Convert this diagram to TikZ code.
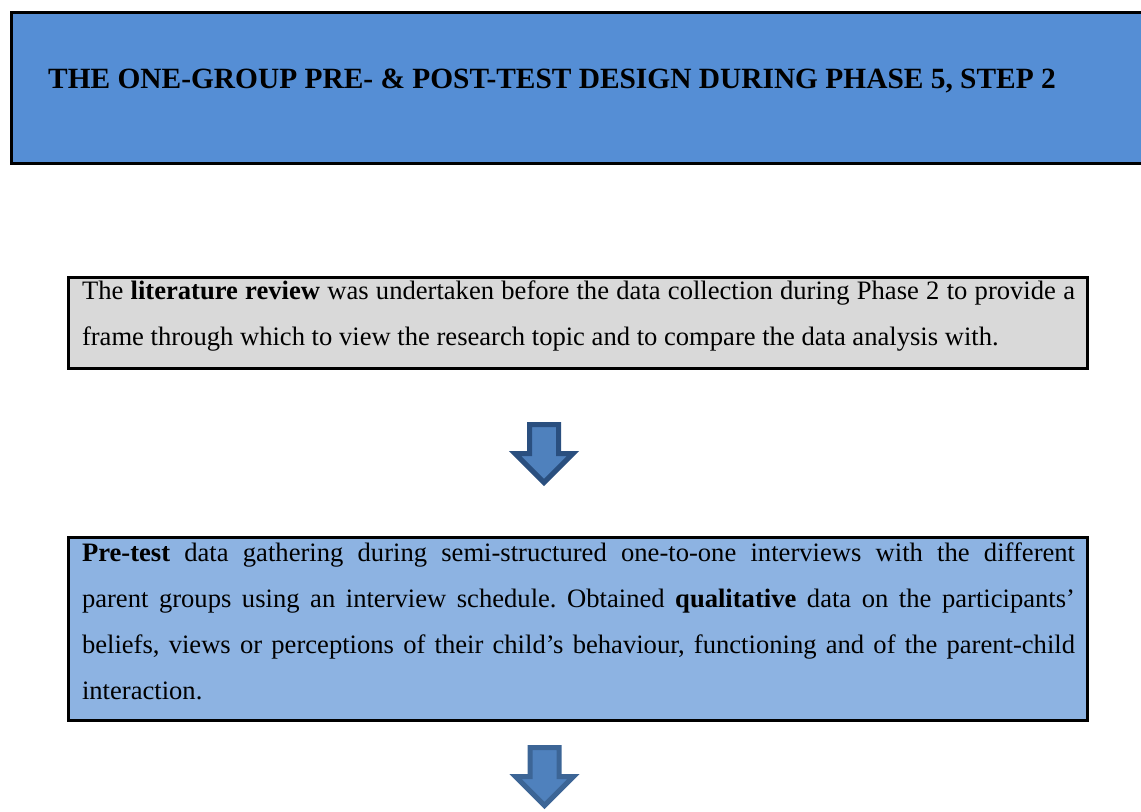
\documentclass[tikz,border=0pt]{standalone}
\usepackage{fontspec}
\setmainfont{Liberation Serif}
\definecolor{titleblue}{HTML}{558ED5}
\definecolor{stepblue}{HTML}{8DB3E2}
\definecolor{litgray}{HTML}{D9D9D9}
\definecolor{arrowfill}{HTML}{4F81BD}
\definecolor{arrowedgeA}{HTML}{2A4F7F}
\definecolor{arrowedgeB}{HTML}{3C6596}
\tikzset{
  framebox/.style={draw=black, line width=1.5pt, rectangle, inner sep=0pt,
    outer sep=0pt, anchor=north west},
  bodytext/.style={anchor=north west, inner sep=0pt, outer sep=0pt,
    text width=496.5pt, align=justify,
    font=\fontsize{13.3pt}{23pt}\selectfont\frenchspacing},
  titletext/.style={anchor=base, inner sep=0pt,
    font=\fontsize{14.7pt}{17pt}\selectfont\bfseries},
  pics/downarrow/.style={code={
    \path[pic actions, fill=arrowfill, line width=2.5pt, line join=miter]
      (-14.5,0) -- (14.5,0) -- (14.5,29) -- (29,29) -- (0,58)
      -- (-29,29) -- (-14.5,29) -- cycle;
  }}
}
\begin{document}
\begin{tikzpicture}[x=0.5pt, y=-0.5pt]
  \path[use as bounding box] (0,0) rectangle (1141,811);
  \clip (0,0) rectangle (1141,811);

  % heading banner
  \node[framebox, fill=titleblue, minimum width=574.25pt, minimum height=75.5pt]
    (titlebox) at (11.5,12) {};
  \node[titletext] (title) at (552,88)
    {THE ONE-GROUP PRE- \& POST-TEST DESIGN DURING PHASE 5, STEP 2};

  % literature review step
  \node[framebox, fill=litgray, minimum width=509.5pt, minimum height=45.5pt]
    (litbox) at (68.5,277) {};
  \node[bodytext] (littext) at (82,267.3)
    {\strut The \textbf{literature review} was undertaken before the data collection during Phase 2 to provide a\linebreak
     frame through which to view the research topic and to compare the data analysis with.};

  \pic[draw=arrowedgeA] (arrowA) at (544,424.5) {downarrow};

  % pre-test step
  \node[framebox, fill=stepblue, minimum width=509.5pt, minimum height=91.5pt]
    (prebox) at (68.5,537.5) {};
  \node[bodytext] (pretext) at (82,529.3)
    {\strut\textbf{Pre-test} data gathering during semi-structured one-to-one interviews with the different\linebreak
     parent groups using an interview schedule. Obtained \textbf{qualitative} data on the participants’\linebreak
     beliefs, views or perceptions of their child’s behaviour, functioning and of the parent-child\linebreak
     interaction.};

  \pic[draw=arrowedgeB] (arrowB) at (544.5,747.5) {downarrow};
\end{tikzpicture}
\end{document}
